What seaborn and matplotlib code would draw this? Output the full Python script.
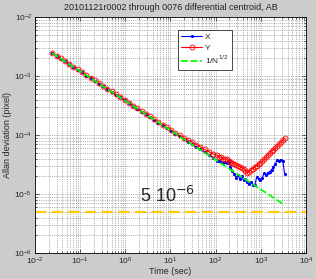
import matplotlib
matplotlib.use("Agg")
import matplotlib.pyplot as plt
import seaborn as sns
import pandas as pd

# averaging time (sec)
tau = [0.024, 0.03, 0.037, 0.046, 0.057, 0.071, 0.088, 0.11, 0.136, 0.17,
       0.21, 0.26, 0.32, 0.4, 0.5, 0.62, 0.77, 0.96, 1.2, 1.5,
       1.85, 2.3, 2.85, 3.5, 4.4, 5.4, 6.7, 8.3, 10.3, 12.8,
       15.9, 19.7, 24.4, 30, 37, 46, 57, 71, 88, 109,
       120, 132, 145, 160, 176, 194, 213, 235, 258, 284,
       313, 344, 378, 416, 458, 504, 554, 610, 671, 738,
       812, 893, 982, 1080, 1190, 1310, 1440, 1580, 1740, 1910,
       2100, 2310, 2540, 2800, 3080, 3390]

# Allan deviation, X centroid (pixel)
dev_x = [2.45e-3, 2.18e-3, 1.97e-3, 1.78e-3, 1.58e-3, 1.43e-3, 1.27e-3, 1.15e-3, 1.02e-3, 9.2e-4,
         8.3e-4, 7.4e-4, 6.7e-4, 6.0e-4, 5.4e-4, 4.8e-4, 4.35e-4, 3.87e-4, 3.45e-4, 3.1e-4,
         2.78e-4, 2.5e-4, 2.26e-4, 2.02e-4, 1.8e-4, 1.63e-4, 1.47e-4, 1.31e-4, 1.18e-4, 1.06e-4,
         9.5e-5, 8.6e-5, 7.7e-5, 7.0e-5, 6.3e-5, 5.7e-5, 5.1e-5, 4.6e-5, 4.1e-5, 3.7e-5,
         3.6e-5, 3.5e-5, 3.4e-5, 3.5e-5, 3.3e-5, 3.6e-5, 2.9e-5, 2.5e-5, 2.2e-5, 1.9e-5,
         2.1e-5, 1.8e-5, 2.0e-5, 1.7e-5, 1.8e-5, 1.6e-5, 1.5e-5, 1.6e-5, 1.45e-5, 1.4e-5,
         1.95e-5, 1.8e-5, 1.73e-5, 1.9e-5, 2.24e-5, 2.1e-5, 2.3e-5, 2.4e-5, 2.6e-5, 2.9e-5,
         3.2e-5, 3.8e-5, 3.7e-5, 3.8e-5, 3.6e-5, 2.2e-5]

# Allan deviation, Y centroid (pixel)
dev_y = [2.5e-3, 2.22e-3, 2.0e-3, 1.8e-3, 1.61e-3, 1.45e-3, 1.3e-3, 1.17e-3, 1.05e-3, 9.4e-4,
         8.4e-4, 7.6e-4, 6.8e-4, 6.1e-4, 5.5e-4, 4.9e-4, 4.4e-4, 3.95e-4, 3.55e-4, 3.15e-4,
         2.85e-4, 2.56e-4, 2.3e-4, 2.07e-4, 1.85e-4, 1.67e-4, 1.5e-4, 1.35e-4, 1.22e-4, 1.1e-4,
         9.9e-5, 9.0e-5, 8.2e-5, 7.6e-5, 6.9e-5, 6.3e-5, 5.7e-5, 5.2e-5, 4.8e-5, 4.5e-5,
         4.3e-5, 4.2e-5, 4.0e-5, 3.9e-5, 3.9e-5, 3.7e-5, 3.5e-5, 3.4e-5, 3.2e-5, 3.1e-5,
         3.0e-5, 2.9e-5, 2.8e-5, 2.7e-5, 2.5e-5, 2.3e-5, 2.4e-5, 2.6e-5, 2.7e-5, 2.9e-5,
         3.0e-5, 3.2e-5, 3.4e-5, 3.6e-5, 3.9e-5, 4.2e-5, 4.6e-5, 4.9e-5, 5.3e-5, 5.6e-5,
         6.0e-5, 6.6e-5, 7.0e-5, 7.6e-5, 8.2e-5, 8.8e-5]

# 1/N^(1/2) reference line end points
ref_tau = [0.024, 3300]
ref_dev = [2.45e-3, 6.6e-6]

# requirement level
req_level = 5e-6
req_label = "5 10$^{-6}$"
title = "20101121r0002 through 0076 differential centroid, AB"

sns.set_style("ticks")
plt.rcParams["font.family"] = ["Liberation Sans", "DejaVu Sans"]
plt.rcParams["font.size"] = 6

fig = plt.figure(figsize=(3.16, 2.79), dpi=100, facecolor="#cccccc")
ax = fig.add_axes([0.111, 0.093, 0.857, 0.846])
ax.set_facecolor("white")

df = pd.DataFrame({"tau": tau, "x": dev_x, "y": dev_y})
sns.lineplot(data=df, x="tau", y="x", ax=ax, color="blue", marker=".",
             markersize=3, markeredgecolor="blue", linewidth=0.8,
             estimator=None, sort=False, label="X")
sns.lineplot(data=df, x="tau", y="y", ax=ax, color="red", marker="o",
             markersize=3.5, markerfacecolor="none", markeredgecolor="red",
             markeredgewidth=0.6, linewidth=0.8, estimator=None, sort=False, label="Y")
sns.lineplot(x=ref_tau, y=ref_dev, ax=ax, color="#00ff00", linestyle="--",
             linewidth=1.3, label="1/N$^{1/2}$")
ax.axhline(req_level, color="#ffcc00", linestyle="--", linewidth=1.6, dashes=(5, 2.5))

ax.set_xscale("log")
ax.set_yscale("log")
ax.set_xlim(1e-2, 1e4)
ax.set_ylim(1e-6, 1e-2)

ax.grid(which="both", linestyle=":", color="0.45", linewidth=0.5)
ax.tick_params(which="both", direction="in", top=True, right=True, labelsize=6, pad=2)
ax.tick_params(which="major", length=3, width=0.5)
ax.tick_params(which="minor", length=1.5, width=0.5)
for s in ax.spines.values():
    s.set_linewidth(0.6)
    s.set_color("black")

ax.text(2.1, 7.3e-6, req_label, fontsize=13, va="baseline", ha="left")

ax.set_title(title, fontsize=6.5, color="#222222", pad=5)
ax.set_xlabel("Time (sec)", fontsize=6.5)
ax.set_ylabel("Allan deviation (pixel)", fontsize=6.5)
ax.xaxis.set_label_coords(0.5, -0.058)
ax.yaxis.set_label_coords(-0.085, 0.5)

leg = ax.legend(loc="upper left", bbox_to_anchor=(0.528, 0.945), fontsize=6,
                frameon=True, fancybox=False, framealpha=1, edgecolor="black",
                borderaxespad=0, handlelength=2.5, labelspacing=0.3,
                borderpad=0.4, handletextpad=0.3)
leg.get_frame().set_linewidth(0.5)

fig.savefig("out.png", dpi=100, facecolor=fig.get_facecolor())
